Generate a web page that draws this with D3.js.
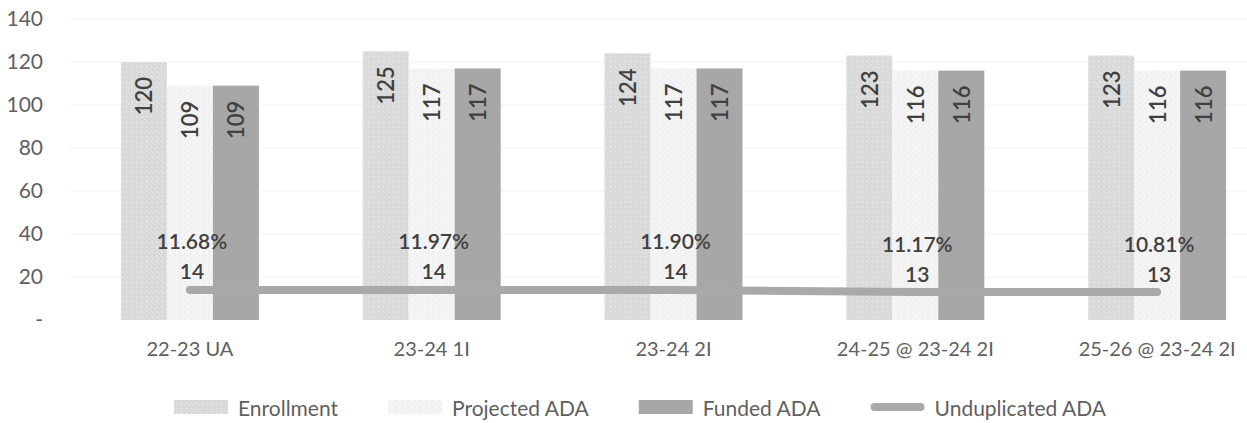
<!DOCTYPE html>
<html>
<head>
<meta charset="utf-8">
<script src="https://cdn.jsdelivr.net/npm/d3@7"></script>
<style>
  html, body { margin: 0; padding: 0; background: #fff; }
  svg { display: block; font-family: Lato, "Open Sans", sans-serif; }
</style>
</head>
<body>
<svg id="chart" width="1247" height="423"></svg>
<script>
// ---- data ----
const categories = ["22-23 UA", "23-24 1I", "23-24 2I", "24-25 @ 23-24 2I", "25-26 @ 23-24 2I"];
const enrollment = [120, 125, 124, 123, 123];
const projectedADA = [109, 117, 117, 116, 116];
const fundedADA = [109, 117, 117, 116, 116];
const unduplicatedADA = [14, 14, 14, 13, 13];
const unduplicatedPct = [11.68, 11.97, 11.90, 11.17, 10.81];
const yTicks = [0, 20, 40, 60, 80, 100, 120, 140];
const barSeries = ["Enrollment", "Projected ADA", "Funded ADA"];
const lineSeries = "Unduplicated ADA";

// ---- layout ----
const W = 1247, H = 423;
const FONT = "Lato, 'Open Sans', sans-serif";
const svg = d3.select("#chart");
svg.append("rect").attr("width", W).attr("height", H).attr("fill", "#fff");

const defs = svg.append("defs");
// speckled fills for the two light bar series
function speckle(id, base, dots, size) {
  const p = defs.append("pattern").attr("id", id)
    .attr("patternUnits", "userSpaceOnUse").attr("width", size).attr("height", size);
  p.append("rect").attr("width", size).attr("height", size).attr("fill", base);
  dots.forEach(([dx, dy, c]) => p.append("rect").attr("x", dx).attr("y", dy)
    .attr("width", 1).attr("height", 1).attr("fill", c));
}
speckle("fillEnroll", "#dbdbdb",
  [[0, 0, "#cacaca"], [2, 1, "#e9e9e9"], [1, 3, "#cecece"], [3, 2, "#e5e5e5"], [4, 4, "#d0d0d0"], [0, 4, "#eaeaea"]], 5);
speckle("fillProj", "#f4f4f4",
  [[1, 1, "#e3e3e3"], [4, 3, "#e7e7e7"], [2, 5, "#e5e5e5"], [5, 0, "#fbfbfb"]], 6);

const fills = {
  "Enrollment": "url(#fillEnroll)",
  "Projected ADA": "url(#fillProj)",
  "Funded ADA": "#a7a7a7"
};
const lineColor = "#a9a9a9";

const x0 = d3.scaleBand().domain(categories).range([69, 1278]).padding(0);
const groupW = 138;
const x1 = d3.scaleBand().domain(barSeries)
  .range([(x0.bandwidth() - groupW) / 2, (x0.bandwidth() + groupW) / 2]);
const y = d3.scaleLinear().domain([0, 140]).range([320, 19]);

// gridlines
svg.append("g").selectAll("line").data(yTicks.filter(d => d > 0)).join("line")
  .attr("x1", 69).attr("x2", W).attr("y1", d => y(d)).attr("y2", d => y(d))
  .attr("stroke", "#f3f3f3").attr("stroke-width", 1);

// y axis
const yAxis = d3.axisLeft(y).tickValues(yTicks)
  .tickFormat(d => d === 0 ? "-" : d).tickSize(0).tickPadding(0);
const gy = svg.append("g").attr("transform", "translate(43,0)").call(yAxis);
gy.select(".domain").remove();
gy.selectAll("text").attr("font-size", 21).attr("fill", "#5f5f5f").attr("font-family", FONT);

// x axis labels
const xAxis = d3.axisBottom(x0).tickSize(0).tickPadding(0);
const gx = svg.append("g").attr("transform", "translate(0,342)").call(xAxis);
gx.select(".domain").remove();
gx.selectAll("text").attr("font-size", 20).attr("fill", "#5f5f5f").attr("font-family", FONT);

// bars
const barRows = categories.map((c, i) => ({
  cat: c,
  vals: [
    { s: "Enrollment", v: enrollment[i] },
    { s: "Projected ADA", v: projectedADA[i] },
    { s: "Funded ADA", v: fundedADA[i] }
  ]
}));
const groups = svg.append("g").selectAll("g").data(barRows).join("g")
  .attr("transform", d => `translate(${x0(d.cat)},0)`);
groups.selectAll("rect").data(d => d.vals).join("rect")
  .attr("x", d => x1(d.s)).attr("width", x1.bandwidth())
  .attr("y", d => y(d.v)).attr("height", d => y(0) - y(d.v))
  .attr("fill", d => fills[d.s]);
groups.selectAll("text").data(d => d.vals).join("text")
  .attr("transform", d => `translate(${x1(d.s) + x1.bandwidth() / 2},${y(d.v) + 15}) rotate(-90)`)
  .attr("text-anchor", "end").attr("dominant-baseline", "central")
  .attr("font-size", 22).attr("font-weight", 600).attr("fill", "#404040")
  .text(d => d.v);

// unduplicated ADA line
const cx = c => x0(c) + x0.bandwidth() / 2;
const lineData = categories.map((c, i) => ({ c, v: unduplicatedADA[i], p: unduplicatedPct[i] }));
svg.append("path").datum(lineData)
  .attr("d", d3.line().x(d => cx(d.c)).y(d => y(d.v)))
  .attr("fill", "none").attr("stroke", lineColor).attr("stroke-width", 8)
  .attr("stroke-linecap", "round").attr("stroke-linejoin", "round");

const lbl = svg.append("g").selectAll("g").data(lineData).join("g");
lbl.append("text")
  .attr("x", d => cx(d.c) + 2).attr("y", d => y(d.v) - 49)
  .attr("text-anchor", "middle").attr("dominant-baseline", "central")
  .attr("font-size", 21).attr("font-weight", 600).attr("fill", "#404040")
  .text(d => d3.format(".2f")(d.p) + "%");
lbl.append("text")
  .attr("x", d => cx(d.c) + 2).attr("y", d => y(d.v) - 19)
  .attr("text-anchor", "middle").attr("dominant-baseline", "central")
  .attr("font-size", 21).attr("font-weight", 600).attr("fill", "#404040")
  .text(d => d.v);

// legend
const legendItems = barSeries.concat([lineSeries]);
const legend = svg.append("g").attr("transform", "translate(0,407)");
let lx = 174;
legendItems.forEach(name => {
  const g = legend.append("g").attr("transform", `translate(${lx},0)`);
  if (name === lineSeries) {
    g.append("line").attr("x1", 4).attr("x2", 50).attr("y1", 0).attr("y2", 0)
      .attr("stroke", lineColor).attr("stroke-width", 8).attr("stroke-linecap", "round");
  } else {
    g.append("rect").attr("x", 0).attr("y", -7).attr("width", 54).attr("height", 14)
      .attr("fill", fills[name]);
  }
  const t = g.append("text").attr("x", 64).attr("y", 0)
    .attr("dominant-baseline", "central").attr("font-size", 21).attr("fill", "#5f5f5f")
    .attr("font-family", FONT)
    .text(name);
  lx += 64 + t.node().getComputedTextLength() + 50;
});
</script>
</body>
</html>
